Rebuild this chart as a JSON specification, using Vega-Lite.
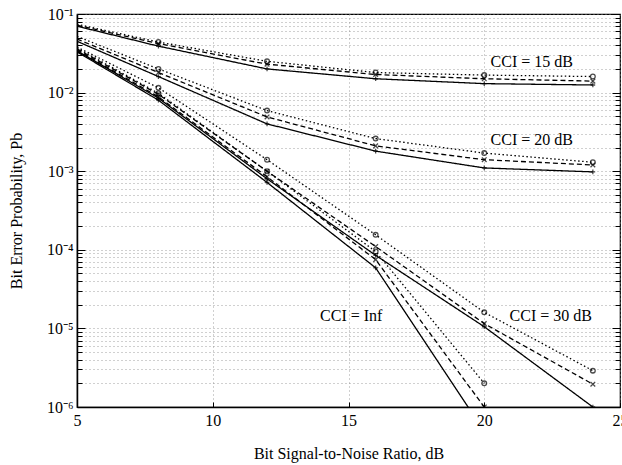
{
  "$schema": "https://vega.github.io/schema/vega-lite/v6.json",
  "autosize": "none",
  "padding": {"left": 77, "top": 14, "right": 2, "bottom": 58},
  "width": 543,
  "height": 393,
  "background": "white",
  "config": {
    "view": {"stroke": "black", "strokeWidth": 1.2},
    "font": "Liberation Serif",
    "axis": {
      "labelFont": "Liberation Serif",
      "titleFont": "Liberation Serif",
      "labelFontSize": 16,
      "titleFontSize": 16,
      "labelColor": "black",
      "titleColor": "black",
      "titleFontWeight": "normal",
      "domainColor": "black",
      "domainWidth": 1.5,
      "tickColor": "black",
      "gridColor": "#888",
      "gridDash": [1, 3],
      "gridWidth": 0.8
    }
  },
  "resolve": {"axis": {"y": "independent"}},
  "datasets": {
    "curves": [
      {"cci": "15", "style": "solid", "x": 5, "y": 0.070},
      {"cci": "15", "style": "solid", "x": 8, "y": 0.039},
      {"cci": "15", "style": "solid", "x": 12, "y": 0.020},
      {"cci": "15", "style": "solid", "x": 16, "y": 0.015},
      {"cci": "15", "style": "solid", "x": 20, "y": 0.013},
      {"cci": "15", "style": "solid", "x": 24, "y": 0.0125},
      {"cci": "15", "style": "dashed", "x": 5, "y": 0.072},
      {"cci": "15", "style": "dashed", "x": 8, "y": 0.042},
      {"cci": "15", "style": "dashed", "x": 12, "y": 0.023},
      {"cci": "15", "style": "dashed", "x": 16, "y": 0.017},
      {"cci": "15", "style": "dashed", "x": 20, "y": 0.015},
      {"cci": "15", "style": "dashed", "x": 24, "y": 0.014},
      {"cci": "15", "style": "dotted", "x": 5, "y": 0.074},
      {"cci": "15", "style": "dotted", "x": 8, "y": 0.044},
      {"cci": "15", "style": "dotted", "x": 12, "y": 0.025},
      {"cci": "15", "style": "dotted", "x": 16, "y": 0.018},
      {"cci": "15", "style": "dotted", "x": 20, "y": 0.0167},
      {"cci": "15", "style": "dotted", "x": 24, "y": 0.016},
      {"cci": "20", "style": "solid", "x": 5, "y": 0.045},
      {"cci": "20", "style": "solid", "x": 8, "y": 0.016},
      {"cci": "20", "style": "solid", "x": 12, "y": 0.0040},
      {"cci": "20", "style": "solid", "x": 16, "y": 0.0018},
      {"cci": "20", "style": "solid", "x": 20, "y": 0.0011},
      {"cci": "20", "style": "solid", "x": 24, "y": 0.00098},
      {"cci": "20", "style": "dashed", "x": 5, "y": 0.048},
      {"cci": "20", "style": "dashed", "x": 8, "y": 0.018},
      {"cci": "20", "style": "dashed", "x": 12, "y": 0.0049},
      {"cci": "20", "style": "dashed", "x": 16, "y": 0.0021},
      {"cci": "20", "style": "dashed", "x": 20, "y": 0.0014},
      {"cci": "20", "style": "dashed", "x": 24, "y": 0.0012},
      {"cci": "20", "style": "dotted", "x": 5, "y": 0.052},
      {"cci": "20", "style": "dotted", "x": 8, "y": 0.020},
      {"cci": "20", "style": "dotted", "x": 12, "y": 0.0059},
      {"cci": "20", "style": "dotted", "x": 16, "y": 0.0026},
      {"cci": "20", "style": "dotted", "x": 20, "y": 0.0017},
      {"cci": "20", "style": "dotted", "x": 24, "y": 0.0013},
      {"cci": "30", "style": "solid", "x": 5, "y": 0.034},
      {"cci": "30", "style": "solid", "x": 8, "y": 0.0085},
      {"cci": "30", "style": "solid", "x": 12, "y": 0.00080},
      {"cci": "30", "style": "solid", "x": 16, "y": 0.000085},
      {"cci": "30", "style": "solid", "x": 20, "y": 0.0000105},
      {"cci": "30", "style": "solid", "x": 24, "y": 0.000001},
      {"cci": "30", "style": "dashed", "x": 5, "y": 0.036},
      {"cci": "30", "style": "dashed", "x": 8, "y": 0.0095},
      {"cci": "30", "style": "dashed", "x": 12, "y": 0.0010},
      {"cci": "30", "style": "dashed", "x": 16, "y": 0.00011},
      {"cci": "30", "style": "dashed", "x": 20, "y": 0.0000115},
      {"cci": "30", "style": "dashed", "x": 24, "y": 0.00000195},
      {"cci": "30", "style": "dotted", "x": 5, "y": 0.038},
      {"cci": "30", "style": "dotted", "x": 8, "y": 0.0115},
      {"cci": "30", "style": "dotted", "x": 12, "y": 0.0014},
      {"cci": "30", "style": "dotted", "x": 16, "y": 0.000155},
      {"cci": "30", "style": "dotted", "x": 20, "y": 0.000016},
      {"cci": "30", "style": "dotted", "x": 24, "y": 0.0000029},
      {"cci": "Inf", "style": "solid", "x": 5, "y": 0.033},
      {"cci": "Inf", "style": "solid", "x": 8, "y": 0.0080},
      {"cci": "Inf", "style": "solid", "x": 12, "y": 0.00072},
      {"cci": "Inf", "style": "solid", "x": 16, "y": 0.000059},
      {"cci": "Inf", "style": "solid", "x": 20, "y": 0.00000049},
      {"cci": "Inf", "style": "dashed", "x": 5, "y": 0.035},
      {"cci": "Inf", "style": "dashed", "x": 8, "y": 0.0088},
      {"cci": "Inf", "style": "dashed", "x": 12, "y": 0.00085},
      {"cci": "Inf", "style": "dashed", "x": 16, "y": 0.000075},
      {"cci": "Inf", "style": "dashed", "x": 20, "y": 0.000001},
      {"cci": "Inf", "style": "dotted", "x": 5, "y": 0.037},
      {"cci": "Inf", "style": "dotted", "x": 8, "y": 0.0098},
      {"cci": "Inf", "style": "dotted", "x": 12, "y": 0.0010},
      {"cci": "Inf", "style": "dotted", "x": 16, "y": 0.000095},
      {"cci": "Inf", "style": "dotted", "x": 20, "y": 0.000002}
    ],
    "labels": [
      {"text": "CCI = 15 dB", "x": 21.75, "y": 0.0245},
      {"text": "CCI = 20 dB", "x": 21.75, "y": 0.0025},
      {"text": "CCI = Inf", "x": 15.1, "y": 0.0000145},
      {"text": "CCI = 30 dB", "x": 22.45, "y": 0.0000145}
    ]
  },
  "layer": [
    {
      "data": {"name": "curves"},
      "mark": {"type": "line", "color": "black", "clip": true, "strokeWidth": 1.3},
      "encoding": {
        "x": {
          "field": "x", "type": "quantitative",
          "scale": {"domain": [5, 25], "nice": false, "zero": false},
          "axis": {
            "title": "Bit Signal-to-Noise Ratio, dB",
            "values": [5, 10, 15, 20, 25],
            "tickSize": -5,
            "labelPadding": 10,
            "labelFlush": false,
            "titlePadding": 17,
            "grid": true
          }
        },
        "y": {
          "field": "y", "type": "quantitative",
          "scale": {"type": "log", "domain": [0.000001, 0.1], "nice": false},
          "axis": {
            "title": "Bit Error Probability, Pb",
            "values": [0.000001,0.000002,0.000003,0.000004,0.000005,0.000006,0.000007,0.000008,0.000009,
                       0.00001,0.00002,0.00003,0.00004,0.00005,0.00006,0.00007,0.00008,0.00009,
                       0.0001,0.0002,0.0003,0.0004,0.0005,0.0006,0.0007,0.0008,0.0009,
                       0.001,0.002,0.003,0.004,0.005,0.006,0.007,0.008,0.009,
                       0.01,0.02,0.03,0.04,0.05,0.06,0.07,0.08,0.09,0.1],
            "labelExpr": "datum.value == 0.1 ? '10⁻¹' : datum.value == 0.01 ? '10⁻²' : datum.value == 0.001 ? '10⁻³' : datum.value == 0.0001 ? '10⁻⁴' : datum.value == 0.00001 ? '10⁻⁵' : datum.value == 0.000001 ? '10⁻⁶' : ''",
            "tickSize": {"condition": {"test": "indexof([0.1,0.01,0.001,0.0001,0.00001,0.000001], datum.value) >= 0", "value": -8}, "value": -5},
            "labelPadding": 12,
            "titlePadding": 22,
            "grid": true
          }
        },
        "detail": {"field": "cci"},
        "strokeDash": {
          "field": "style", "type": "nominal",
          "scale": {"domain": ["solid", "dashed", "dotted"], "range": [[1, 0], [5, 3], [1.5, 2.5]]},
          "legend": null
        },
        "strokeWidth": {
          "field": "style", "type": "nominal",
          "scale": {"domain": ["solid", "dashed", "dotted"], "range": [1.6, 1.4, 1]},
          "legend": null
        }
      }
    },
    {
      "data": {"name": "curves"},
      "transform": [{"filter": "datum.x > 5"}],
      "mark": {"type": "point", "color": "black", "filled": false, "clip": true, "strokeWidth": 1.3, "size": 22},
      "encoding": {
        "x": {"field": "x", "type": "quantitative"},
        "y": {
          "field": "y", "type": "quantitative",
          "axis": {
            "orient": "right",
            "title": null,
            "labels": false,
            "grid": false,
            "domain": false,
            "values": [0.000001,0.000002,0.000003,0.000004,0.000005,0.000006,0.000007,0.000008,0.000009,
                       0.00001,0.00002,0.00003,0.00004,0.00005,0.00006,0.00007,0.00008,0.00009,
                       0.0001,0.0002,0.0003,0.0004,0.0005,0.0006,0.0007,0.0008,0.0009,
                       0.001,0.002,0.003,0.004,0.005,0.006,0.007,0.008,0.009,
                       0.01,0.02,0.03,0.04,0.05,0.06,0.07,0.08,0.09,0.1],
            "tickSize": {"condition": {"test": "indexof([0.1,0.01,0.001,0.0001,0.00001,0.000001], datum.value) >= 0", "value": -8}, "value": -5}
          }
        },
        "shape": {
          "field": "style", "type": "nominal",
          "scale": {"domain": ["solid", "dashed", "dotted"], "range": ["M-1,0L1,0M0,-1L0,1", "M-1,-1L1,1M-1,1L1,-1", "circle"]},
          "legend": null
        }
      }
    },
    {
      "data": {"name": "labels"},
      "mark": {"type": "text", "font": "Liberation Serif", "fontSize": 16, "color": "black", "align": "center", "baseline": "middle"},
      "encoding": {
        "x": {"field": "x", "type": "quantitative"},
        "y": {"field": "y", "type": "quantitative", "axis": null},
        "text": {"field": "text"}
      }
    }
  ]
}
